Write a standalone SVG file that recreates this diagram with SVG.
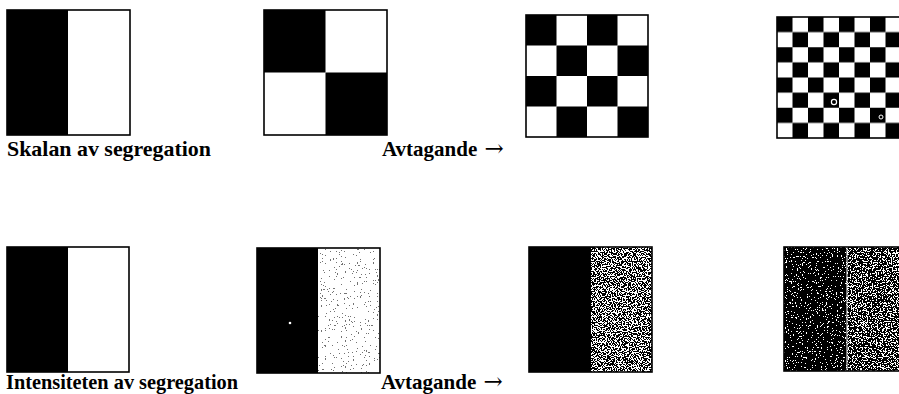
<svg xmlns="http://www.w3.org/2000/svg" width="899" height="394" viewBox="0 0 899 394">
<style>
.frame{fill:none;stroke:#000;stroke-width:1.6}
.blk{fill:#000}
.wht{fill:#fff}
.lbl{font-family:"Liberation Serif","Times New Roman",serif;font-weight:bold;font-size:21px;fill:#000}
.arr{font-family:"DejaVu Serif","Liberation Serif",serif;font-weight:normal;font-size:23px}
</style>
<defs>
<filter id="spkLight" x="0" y="0" width="1" height="1" color-interpolation-filters="sRGB">
<feTurbulence type="fractalNoise" baseFrequency="0.75" numOctaves="2" seed="4"/>
<feColorMatrix type="matrix" values="0 0 0 0 0.45  0 0 0 0 0.45  0 0 0 0 0.45  1 0 0 0 0"/>
<feComponentTransfer><feFuncA type="discrete" tableValues="0 0 0 0 0 0 0 1 1 1"/></feComponentTransfer>
</filter>
<filter id="spkMid" x="0" y="0" width="1" height="1" color-interpolation-filters="sRGB">
<feTurbulence type="fractalNoise" baseFrequency="0.8" numOctaves="2" seed="7"/>
<feColorMatrix type="matrix" values="0 0 0 0 0  0 0 0 0 0  0 0 0 0 0  1 0 0 0 0"/>
<feComponentTransfer><feFuncA type="discrete" tableValues="0 0 0 0 0 0 0 0 0 0 1 1 1 1 1 1 1 1 1 1"/></feComponentTransfer>
</filter>
<filter id="spkDark" x="0" y="0" width="1" height="1" color-interpolation-filters="sRGB">
<feTurbulence type="fractalNoise" baseFrequency="0.8" numOctaves="2" seed="11"/>
<feColorMatrix type="matrix" values="0 0 0 0 0  0 0 0 0 0  0 0 0 0 0  1 0 0 0 0"/>
<feComponentTransfer><feFuncA type="discrete" tableValues="0 0 0 0 0 0 0 0 0 1 1 1 1 1 1 1 1 1 1 1"/></feComponentTransfer>
</filter>
<filter id="spkWhite" x="0" y="0" width="1" height="1" color-interpolation-filters="sRGB">
<feTurbulence type="fractalNoise" baseFrequency="0.8" numOctaves="2" seed="19"/>
<feColorMatrix type="matrix" values="0 0 0 0 1  0 0 0 0 1  0 0 0 0 1  1 0 0 0 0"/>
<feComponentTransfer><feFuncA type="discrete" tableValues="0 0 0 0 0 0 0 0 0 0 0 0 0 1 1 1 1 1 1 1"/></feComponentTransfer>
</filter>
<pattern id="chk4" x="526" y="15" width="61" height="61" patternUnits="userSpaceOnUse">
<rect width="61" height="61" fill="#fff"/>
<rect width="30.5" height="30.5" fill="#000"/>
<rect x="30.5" y="30.5" width="30.5" height="30.5" fill="#000"/>
</pattern>
<pattern id="chk8" x="777" y="17" width="31" height="30.25" patternUnits="userSpaceOnUse">
<rect width="31" height="30.25" fill="#fff"/>
<rect width="15.5" height="15.125" fill="#000"/>
<rect x="15.5" y="15.125" width="15.5" height="15.125" fill="#000"/>
</pattern>
</defs>

<g id="top1">
<rect class="wht" x="7" y="10" width="123" height="125"/>
<rect class="blk" x="7" y="10" width="61" height="125"/>
<rect class="frame" x="7" y="10" width="123" height="125"/>
</g>

<g id="top2">
<rect class="wht" x="264" y="10" width="123" height="125"/>
<rect class="blk" x="264" y="10" width="61.5" height="62.5"/>
<rect class="blk" x="325.5" y="72.5" width="61.5" height="62.5"/>
<rect class="frame" x="264" y="10" width="123" height="125"/>
</g>

<g id="top3">
<rect fill="url(#chk4)" x="526" y="15" width="122" height="122"/>
<rect class="frame" x="526" y="15" width="122" height="122"/>
</g>

<g id="top4">
<rect fill="url(#chk8)" x="777" y="17" width="130" height="121"/>
<rect class="frame" x="777" y="17" width="130" height="121"/>
<circle cx="834" cy="102" r="2.6" fill="none" stroke="#fff" stroke-width="1.2"/>
<circle cx="881" cy="117" r="2" fill="none" stroke="#fff" stroke-width="1"/>
</g>

<g id="bot1">
<rect class="wht" x="7" y="247" width="122" height="125"/>
<rect class="blk" x="7" y="247" width="61" height="125"/>
<rect class="frame" x="7" y="247" width="122" height="125"/>
</g>

<g id="bot2">
<rect class="wht" x="257" y="248" width="123" height="125"/>
<rect x="318" y="248" width="62" height="125" fill="#000" filter="url(#spkLight)"/>
<rect class="blk" x="257" y="248" width="61" height="125"/>
<circle cx="290" cy="323" r="1.3" fill="#fff"/>
<rect class="frame" x="257" y="248" width="123" height="125"/>
</g>

<g id="bot3">
<rect class="wht" x="529" y="247" width="123" height="125"/>
<rect x="591" y="247" width="61" height="125" fill="#000" filter="url(#spkMid)"/>
<rect class="blk" x="529" y="247" width="62" height="125"/>
<rect class="frame" x="529" y="247" width="123" height="125"/>
</g>

<g id="bot4">
<rect class="wht" x="784" y="247" width="123" height="124"/>
<rect x="847" y="247" width="60" height="124" fill="#000" filter="url(#spkDark)"/>
<rect class="blk" x="784" y="247" width="63" height="124"/>
<rect x="784" y="247" width="63" height="124" fill="#000" filter="url(#spkWhite)"/>
<line x1="847" y1="247" x2="847" y2="371" stroke="#fff" stroke-width="1"/>
<rect class="frame" x="784" y="247" width="123" height="124"/>
</g>

<g id="labels">
<text class="lbl" x="7" y="156" textLength="204" lengthAdjust="spacingAndGlyphs">Skalan av segregation</text>
<text class="lbl" x="382" y="156">Avtagande <tspan class="arr" dx="2">→</tspan></text>
<text class="lbl" x="6" y="389" textLength="232" lengthAdjust="spacingAndGlyphs">Intensiteten av segregation</text>
<text class="lbl" x="381" y="389">Avtagande <tspan class="arr" dx="2">→</tspan></text>
</g>
</svg>
